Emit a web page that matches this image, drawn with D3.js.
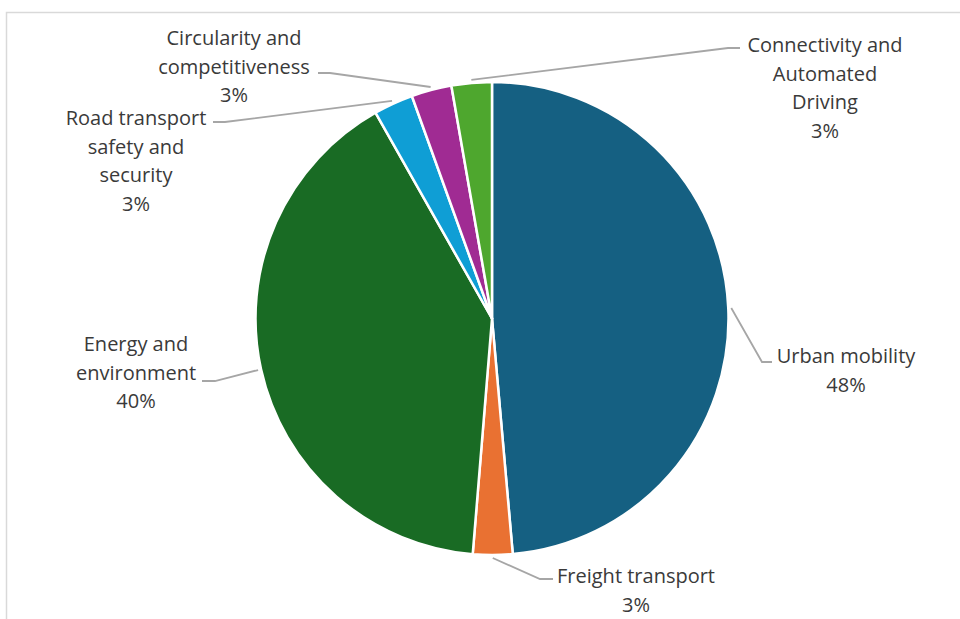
<!DOCTYPE html>
<html>
<head>
<meta charset="utf-8">
<script src="https://cdn.jsdelivr.net/npm/d3@7"></script>
<style>
  body { margin: 0; background: #fff; }
  svg text { font-family: "Open Sans", sans-serif; font-size: 20px; fill: #3a3a3a; }
</style>
</head>
<body>
<svg id="chart" width="960" height="619"></svg>
<script>
// slice data, clockwise from 12 o'clock
const categories = [
  'Urban mobility',
  'Freight transport',
  'Energy and environment',
  'Road transport safety and security',
  'Circularity and competitiveness',
  'Connectivity and Automated Driving'
]
const shares = [48.6, 2.7, 40.5, 2.7, 2.75, 2.75]
const percentLabels = ['48%', '3%', '40%', '3%', '3%', '3%']
const colors = ['#156082', '#e97132', '#196b24', '#0f9ed5', '#a02b93', '#4ea72e']

// label text lines (wrapped like the original)
const labelLines = [
  ['Urban mobility'],
  ['Freight transport'],
  ['Energy and', 'environment'],
  ['Road transport', 'safety and', 'security'],
  ['Circularity and', 'competitiveness'],
  ['Connectivity and', 'Automated', 'Driving']
]

// layout: label centre x, first baseline y, leader attach point + elbow
const labelLayout = [
  {x: 846, y: 363, attach: [772, 362], elbow: [762, 362]},
  {x: 636, y: 583, attach: [553, 579], elbow: [540, 579]},
  {x: 136, y: 351, attach: [202, 381], elbow: [215, 381]},
  {x: 136, y: 125, attach: [213, 122], elbow: [225, 122]},
  {x: 234, y: 45, attach: [318, 73], elbow: [330, 73]},
  {x: 825, y: 52, attach: [740, 48], elbow: [728, 48]}
]

const cx = 492
const cy = 318.5
const radius = 236.5
const lineHeight = 28.7

const svg = d3.select('#chart')

// chart area frame
svg.append('rect')
  .attr('x', 6.5).attr('y', 12.5)
  .attr('width', 970).attr('height', 620)
  .attr('fill', 'none')
  .attr('stroke', '#d9d9d9')
  .attr('stroke-width', 1.5)

const data = categories.map((c, i) => ({
  name: c, value: shares[i], pct: percentLabels[i], lines: labelLines[i], layout: labelLayout[i], color: colors[i]
}))

const pie = d3.pie().sort(null).value((d) => d.value)
const arcs = pie(data)

const arc = d3.arc().innerRadius(0).outerRadius(radius)
const edgeArc = d3.arc().innerRadius(radius + 3).outerRadius(radius + 3)

const g = svg.append('g').attr('transform', `translate(${cx},${cy})`)

g.selectAll('path.slice')
  .data(arcs)
  .enter()
  .append('path')
  .attr('class', 'slice')
  .attr('d', arc)
  .attr('fill', (d) => d.data.color)
  .attr('stroke', '#fff')
  .attr('stroke-width', 2.5)
  .attr('stroke-linejoin', 'round')

// leader lines
const line = d3.line()
svg.selectAll('path.leader')
  .data(arcs)
  .enter()
  .append('path')
  .attr('class', 'leader')
  .attr('d', (d) => {
    let p = edgeArc.centroid(d)
    return line([d.data.layout.attach, d.data.layout.elbow, [p[0] + cx, p[1] + cy]])
  })
  .attr('fill', 'none')
  .attr('stroke', '#a6a6a6')
  .attr('stroke-width', 1.8)

// labels
const labels = svg.selectAll('text.label')
  .data(data)
  .enter()
  .append('text')
  .attr('class', 'label')
  .attr('text-anchor', 'middle')

labels.each(function (d) {
  let t = d3.select(this)
  let all = d.lines.concat([d.pct])
  all.forEach((s, i) => {
    t.append('tspan')
      .attr('x', d.layout.x)
      .attr('y', d.layout.y + i * lineHeight)
      .text(s)
  })
})
</script>
</body>
</html>
